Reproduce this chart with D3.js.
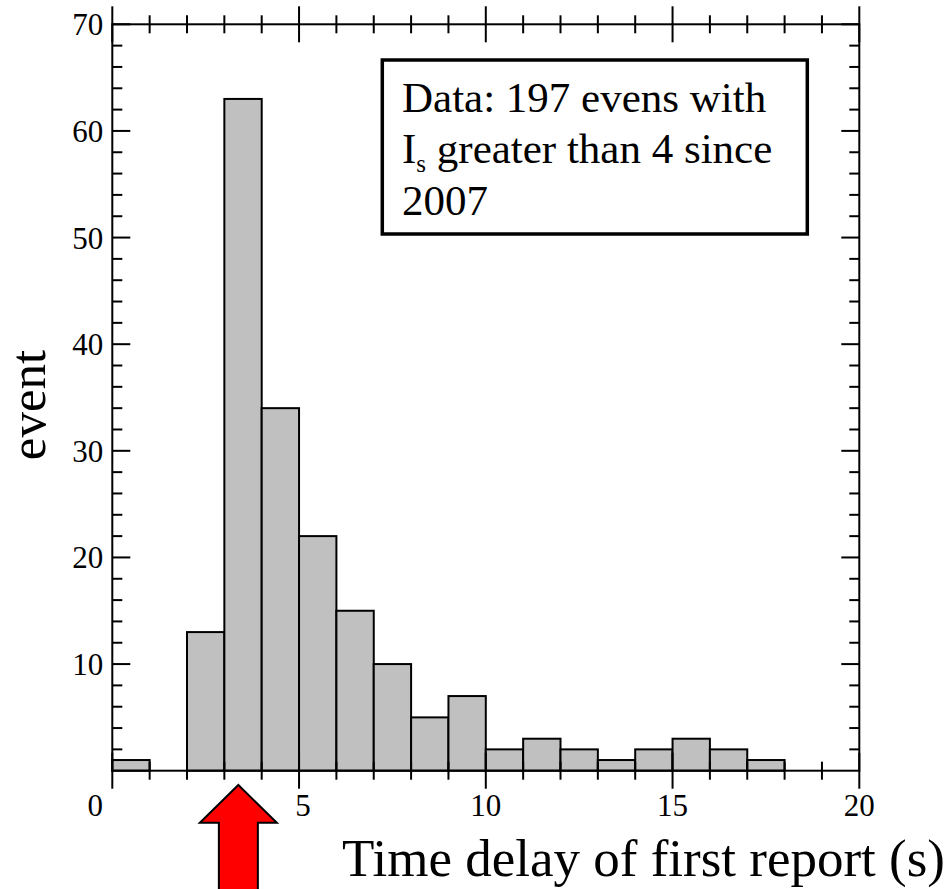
<!DOCTYPE html>
<html>
<head>
<meta charset="utf-8">
<script src="https://cdn.jsdelivr.net/npm/d3@7"></script>
<style>
  body { margin: 0; background: #fff; }
  text { font-family: "Liberation Serif", "Times New Roman", serif; fill: #000; }
</style>
</head>
<body>
<script>
// histogram bins, 1 s wide
var binStart = [0, 1, 2, 3, 4, 5, 6, 7, 8, 9, 10, 11, 12, 13, 14, 15, 16, 17];
var counts   = [1, 0, 13, 63, 34, 22, 15, 10, 5, 7, 2, 3, 2, 1, 2, 3, 2, 1];
var xTickLabels = [0, 5, 10, 15, 20];
var yTickLabels = [10, 20, 30, 40, 50, 60, 70];
var noteLines = ["Data: 197 evens with", "greater than 4 since", "2007"];
var arrowAt = 3.375;

var width = 947, height = 889;

var x = d3.scaleLinear().domain([0, 20]).range([112.3, 859.3]);
var y = d3.scaleLinear().domain([0, 70]).range([770.7, 24.3]);

var svg = d3.select("body").append("svg")
    .attr("width", width)
    .attr("height", height);

// bars
svg.append("g").selectAll("rect")
    .data(binStart.map(function(s, i){ return {x0: s, x1: s + 1, n: counts[i]}; }).filter(function(d){ return d.n > 0; }))
  .enter().append("rect")
    .attr("x", function(d){ return x(d.x0); })
    .attr("y", function(d){ return y(d.n); })
    .attr("width", function(d){ return x(d.x1) - x(d.x0); })
    .attr("height", function(d){ return y(0) - y(d.n); })
    .attr("fill", "#c0c0c0")
    .attr("stroke", "#000")
    .attr("stroke-width", 2);

var ax = svg.append("g").attr("stroke", "#000").attr("stroke-width", 2);

// frame
ax.append("rect")
    .attr("x", x(0)).attr("y", y(70))
    .attr("width", x(20) - x(0)).attr("height", y(0) - y(70))
    .attr("fill", "none");

// top & bottom ticks cross the line
d3.range(0, 21).forEach(function(v){
  var big = v % 5 == 0, len = big ? 18 : 9;
  [y(0), y(70)].forEach(function(yy){
    ax.append("line")
      .attr("x1", x(v)).attr("x2", x(v))
      .attr("y1", yy - len).attr("y2", yy + len);
  });
});

// left & right ticks point inward
d3.range(2, 70, 2).forEach(function(v){
  var len = v % 10 == 0 ? 18 : 10;
  ax.append("line").attr("x1", x(0)).attr("x2", x(0) + len).attr("y1", y(v)).attr("y2", y(v));
  ax.append("line").attr("x1", x(20)).attr("x2", x(20) - len).attr("y1", y(v)).attr("y2", y(v));
});
ax.append("line").attr("x1", x(0)).attr("x2", x(0) + 18).attr("y1", y(70)).attr("y2", y(70));
ax.append("line").attr("x1", x(20)).attr("x2", x(20) - 18).attr("y1", y(70)).attr("y2", y(70));

// tick labels
svg.append("g").selectAll("text")
    .data(yTickLabels)
  .enter().append("text")
    .attr("x", x(0) - 9)
    .attr("y", function(d){ return y(d) + 11; })
    .attr("text-anchor", "end")
    .style("font-size", "31px")
    .text(function(d){ return d; });

svg.append("g").selectAll("text")
    .data(xTickLabels)
  .enter().append("text")
    .attr("x", function(d){ return x(d); })
    .attr("dx", function(d){ return d == 0 ? -17 : (d == 5 ? 4 : 0); })
    .attr("y", 815.7)
    .attr("text-anchor", "middle")
    .style("font-size", "31px")
    .text(function(d){ return d; });

// axis titles
svg.append("text")
    .attr("x", 945)
    .attr("y", 876)
    .attr("text-anchor", "end")
    .style("font-size", "53px")
    .text("Time delay of first report (s)");

svg.append("text")
    .attr("transform", "translate(45," + y(34.3) + ") rotate(-90)")
    .attr("text-anchor", "middle")
    .style("font-size", "51px")
    .text("event");

// note box
svg.append("rect")
    .attr("x", 382.3).attr("y", 60)
    .attr("width", 425).attr("height", 174)
    .attr("fill", "#fff")
    .attr("stroke", "#000")
    .attr("stroke-width", 3.5);

var note = svg.append("g").style("font-size", "43px");
note.append("text").attr("x", 402).attr("y", 111.7).text(noteLines[0]);
var l2 = note.append("text").attr("x", 402).attr("y", 163.4);
l2.append("tspan").text("I");
l2.append("tspan").attr("dy", 9).style("font-size", "25px").text("s");
l2.append("tspan").attr("dy", -9).text(" " + noteLines[1]);
note.append("text").attr("x", 402).attr("y", 215).text(noteLines[2]);

// red arrow under the bars
var ax0 = x(arrowAt), tipY = 785;
var arrow = d3.path();
arrow.moveTo(ax0, tipY);
arrow.lineTo(ax0 + 38.5, tipY + 37.7);
arrow.lineTo(ax0 + 19.5, tipY + 37.7);
arrow.lineTo(ax0 + 19.5, height + 5);
arrow.lineTo(ax0 - 19.5, height + 5);
arrow.lineTo(ax0 - 19.5, tipY + 37.7);
arrow.lineTo(ax0 - 38.5, tipY + 37.7);
arrow.closePath();
svg.append("path")
    .attr("d", arrow.toString())
    .attr("fill", "#ff0000")
    .attr("stroke", "#000")
    .attr("stroke-width", 2);
</script>
</body>
</html>
